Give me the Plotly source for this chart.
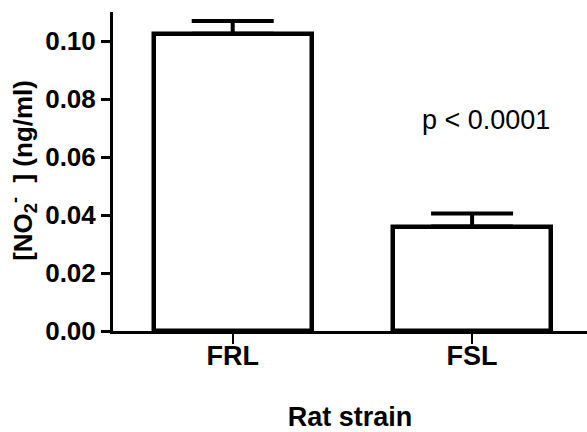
import plotly.graph_objects as go

categories = ["FRL", "FSL"]
values = [0.1025, 0.0360]
errors = [0.0044, 0.0045]
y_ticks = [0.00, 0.02, 0.04, 0.06, 0.08, 0.10]
y_tick_labels = ["0.00", "0.02", "0.04", "0.06", "0.08", "0.10"]
x_title = "Rat strain"
y_title = "[NO<sub>2</sub><sup>-</sup>  ] (ng/ml)"
p_text = "p < 0.0001"

FONT = "Arial, Liberation Sans, sans-serif"

fig = go.Figure()
fig.add_trace(go.Bar(
    x=list(range(len(categories))),
    y=values,
    width=0.66,
    marker=dict(color="white", line=dict(color="black", width=4.5)),
    error_y=dict(type="data", symmetric=False, array=errors,
                 arrayminus=[0] * len(errors),
                 color="black", thickness=4, width=41),
    showlegend=False,
))

fig.add_annotation(x=1.06, y=0.0727, xref="x", yref="y", text=p_text,
                   showarrow=False, font=dict(family=FONT, size=27, color="black"))

fig.add_annotation(x=-0.19, y=0.505, xref="paper", yref="paper", text="<b>" + y_title + "</b>",
                   textangle=-90, showarrow=False, xanchor="center", yanchor="middle",
                   font=dict(family=FONT, size=26, color="black"))

fig.update_layout(
    width=587, height=432,
    margin=dict(l=113, r=0, t=12, b=101),
    paper_bgcolor="white", plot_bgcolor="white",
    font=dict(family=FONT, color="black"),
    bargap=0,
    xaxis=dict(
        range=[-0.5, 1.48],
        tickmode="array", tickvals=list(range(len(categories))), ticktext=categories,
        tickfont=dict(family=FONT, size=27, color="black", weight="bold"),
        ticks="outside", ticklen=10, tickwidth=2, tickcolor="black",
        ticklabelstandoff=-11,
        showline=True, linecolor="black", linewidth=3,
        showgrid=False, zeroline=False,
        title=dict(text="<b>" + x_title + "</b>", standoff=42,
                   font=dict(family=FONT, size=27, color="black")),
    ),
    yaxis=dict(
        range=[0, 0.11],
        tickmode="array", tickvals=y_ticks, ticktext=y_tick_labels,
        tickfont=dict(family=FONT, size=26, color="black", weight="bold"),
        ticks="outside", ticklen=9, tickwidth=3, tickcolor="black",
        showline=True, linecolor="black", linewidth=3,
        showgrid=False, zeroline=False,
    ),
)

fig.write_html("out.html")
